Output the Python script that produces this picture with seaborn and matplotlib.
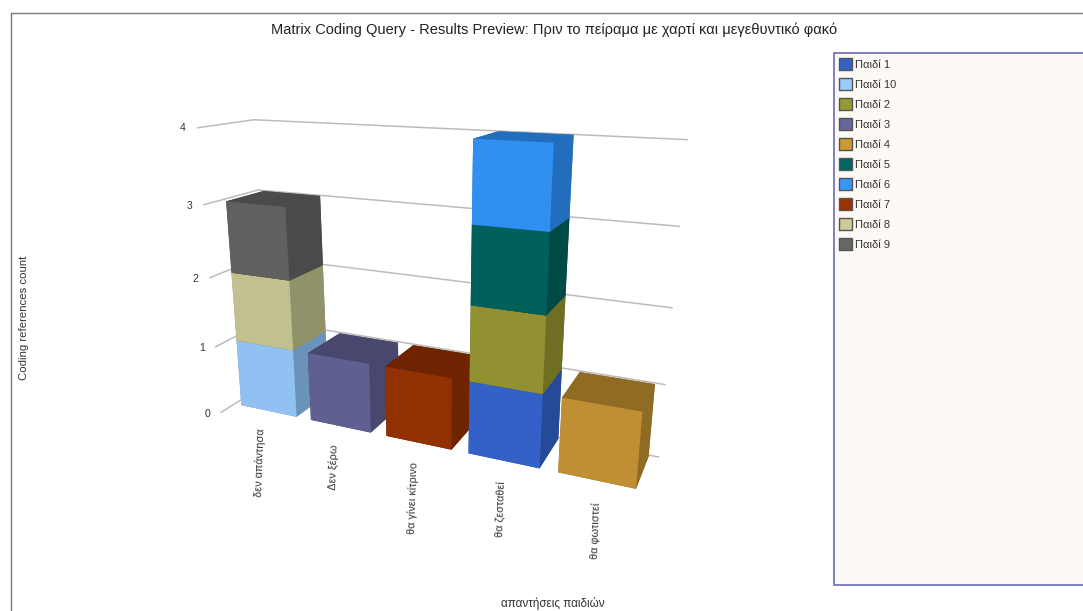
import matplotlib
matplotlib.use("Agg")
import matplotlib.pyplot as plt
from matplotlib.patches import Patch, Rectangle
from mpl_toolkits.mplot3d import proj3d
import seaborn as sns

sns.set_theme(style="white")
plt.rcParams['font.family'] = ['Liberation Sans', 'DejaVu Sans']

TITLE = "Matrix Coding Query - Results Preview: Πριν το πείραμα με χαρτί και μεγεθυντικό φακό"
X_TITLE = "απαντήσεις παιδιών"
Y_TITLE = "Coding references count"
categories = ["δεν απάντησα", "Δεν ξέρω", "θα γίνει κίτρινο", "θα ζεσταθεί", "θα φωτιστεί"]
series_names = ["Παιδί 1", "Παιδί 10", "Παιδί 2", "Παιδί 3", "Παιδί 4",
                "Παιδί 5", "Παιδί 6", "Παιδί 7", "Παιδί 8", "Παιδί 9"]
paidi_1  = [0, 0, 0, 1, 0]
paidi_10 = [1, 0, 0, 0, 0]
paidi_2  = [0, 0, 0, 1, 0]
paidi_3  = [0, 1, 0, 0, 0]
paidi_4  = [0, 0, 0, 0, 1]
paidi_5  = [0, 0, 0, 1, 0]
paidi_6  = [0, 0, 0, 1, 0]
paidi_7  = [0, 0, 1, 0, 0]
paidi_8  = [1, 0, 0, 0, 0]
paidi_9  = [1, 0, 0, 0, 0]
all_series = [paidi_1, paidi_10, paidi_2, paidi_3, paidi_4, paidi_5, paidi_6, paidi_7, paidi_8, paidi_9]
z_ticks = [0, 1, 2, 3, 4]
front_colors = sns.color_palette(["#3361C7", "#91C1F3", "#919131", "#5F5F91", "#C08F33",
                                  "#00615C", "#2F90F1", "#913000", "#C1C18F", "#606060"])
side_colors = sns.color_palette(["#254A99", "#6A93BC", "#6F6F24", "#48486E", "#8F6B24",
                                 "#004A46", "#226EBC", "#6E2400", "#91916A", "#4A4A4A"])
legend_colors = sns.color_palette(["#3361C7", "#99CCFF", "#999933", "#666699", "#CC9933",
                                   "#006666", "#3399FF", "#993300", "#CCCC99", "#666666"])

fig = plt.figure(figsize=(10.83, 6.11), dpi=100, facecolor="white")
W, H = 1083, 611

ax = fig.add_axes([0.0, -0.048, 0.78, 1.12], projection="3d", computed_zorder=False)
ax.patch.set_alpha(0)
ax.set_proj_type("persp", focal_length=0.22)
ax.view_init(elev=17, azim=-66)
ax.set_box_aspect((4.95, 0.78, 3.35), zoom=0.79)
ax.set_xlim(0, 5); ax.set_ylim(0, 1); ax.set_zlim(0, 4)
ax.set_axis_off()


def label_3d(x, y, z, text, **kwargs):
    """Place text at the screen position of a point of the 3D axes."""
    xs, ys, _ = proj3d.proj_transform(x, y, z, ax.get_proj())
    ax.text2D(xs, ys, text, transform=ax.transData, color="#333333", **kwargs)


grid_color = "#BBBBBB"
for k in z_ticks:
    ax.plot([0, 0], [-0.3, 1], [k, k], color=grid_color, lw=1.1, zorder=1)
    ax.plot([0, 5], [1, 1], [k, k], color=grid_color, lw=1.1, zorder=1)
    label_3d(-0.08, -0.42, k, str(k), ha="right", va="center", fontsize=7.5, zorder=2)

z = 2
for c, cat in enumerate(categories):
    base = 0
    for s, vals in enumerate(all_series):
        v = vals[c]
        if v == 0:
            continue
        ax.bar3d(c + 0.1, 0.04, base, 0.8, 0.92, v,
                 color=[side_colors[s], side_colors[s], front_colors[s], side_colors[s], side_colors[s], side_colors[s]],
                 shade=False, zorder=z, edgecolor="none", linewidth=0)
        z += 1
        base += v
    label_3d(c + 0.38 + 0.035 * c, 0, -0.28, cat, rotation=88, ha="center", va="top", fontsize=7.8, zorder=50)

# Frame, title and axis titles
fig.add_artist(plt.Line2D([10.5/W, 10.5/W], [0, 1-13/H], color="#777777", lw=1))
fig.add_artist(plt.Line2D([10.5/W, 1], [1-13/H, 1-13/H], color="#777777", lw=1))
fig.text(554/W, 1-30/H, TITLE, ha="center", va="center", fontsize=10.5, color="#222222")
fig.text(553/W, 1-604/H, X_TITLE, ha="center", va="center", fontsize=8.4, color="#333333")
fig.text(24/W, 1-318/H, Y_TITLE, rotation=90, ha="center", va="center", fontsize=8.2, color="#333333")

# Legend panel
fig.add_artist(Rectangle((834/W, 1-585/H), 260/W, 532/H, transform=fig.transFigure,
                         facecolor="#FDF9F4", edgecolor="#6A6AB8", lw=1.2))
handles = [Patch(facecolor=c, edgecolor="#555555", linewidth=1, label=n)
           for c, n in zip(legend_colors, series_names)]
fig.legend(handles=handles, loc="upper left", bbox_to_anchor=(828/W, 1-47/H), frameon=False,
           fontsize=8, labelspacing=0.77, handlelength=1.2, handleheight=1.2,
           handletextpad=0.2, borderpad=0.5, labelcolor="#333333")
fig.savefig("out.png", dpi=100)
